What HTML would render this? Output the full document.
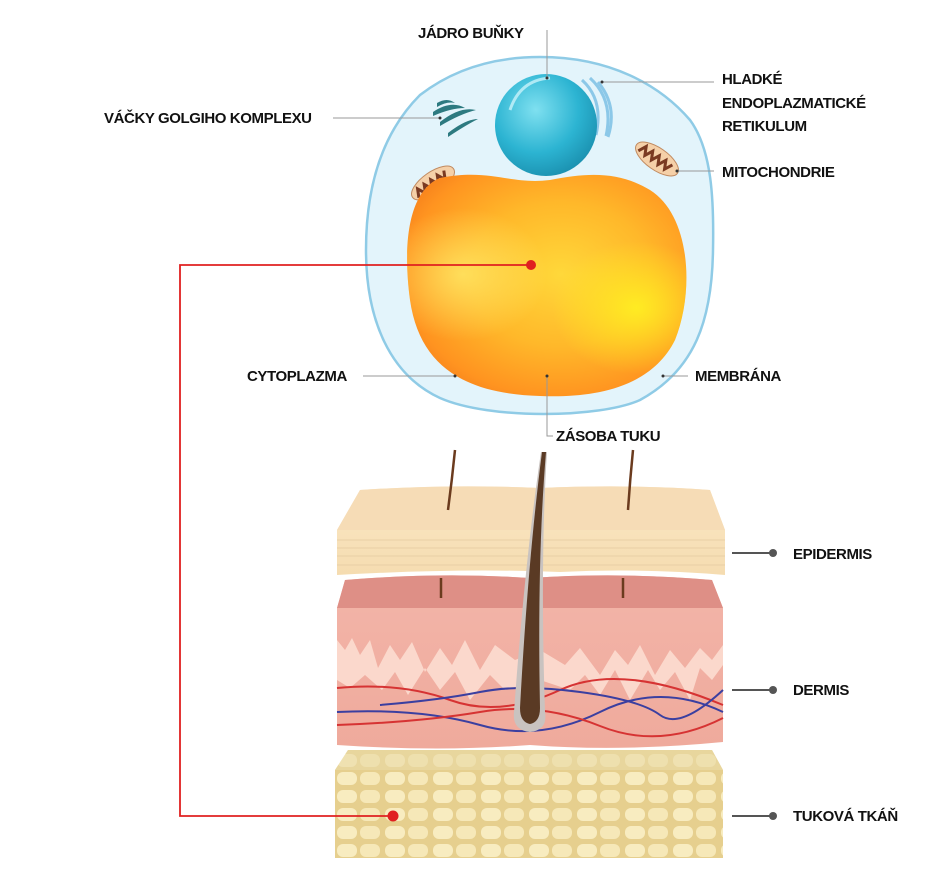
<!DOCTYPE html>
<html><head><meta charset="utf-8"><style>
html,body{margin:0;padding:0;background:#fff;}
svg{display:block}
text{font-family:"Liberation Sans",sans-serif;font-weight:bold;font-size:15px;fill:#111;letter-spacing:-0.4px}
</style></head><body>
<svg width="938" height="869" viewBox="0 0 938 869" xmlns="http://www.w3.org/2000/svg">
<defs>
<radialGradient id="fat" cx="0.55" cy="0.45" r="0.65">
<stop offset="0" stop-color="#ffd83a"/><stop offset="0.5" stop-color="#ffb82a"/><stop offset="0.85" stop-color="#ff9420"/><stop offset="1" stop-color="#f57f1c"/>
</radialGradient>
<radialGradient id="fat2" cx="0.82" cy="0.6" r="0.3">
<stop offset="0" stop-color="#ffee22" stop-opacity="0.95"/><stop offset="1" stop-color="#ffee22" stop-opacity="0"/>
</radialGradient>
<radialGradient id="fat3" cx="0.2" cy="0.45" r="0.3">
<stop offset="0" stop-color="#fff070" stop-opacity="0.7"/><stop offset="1" stop-color="#fff070" stop-opacity="0"/>
</radialGradient>
<radialGradient id="nuc" cx="0.4" cy="0.35" r="0.7">
<stop offset="0" stop-color="#7fe0f0"/><stop offset="0.6" stop-color="#2cb4d2"/><stop offset="1" stop-color="#1a8fae"/>
</radialGradient>
<linearGradient id="epi" x1="0" y1="0" x2="0" y2="1"><stop offset="0" stop-color="#fbe8c6"/><stop offset="1" stop-color="#f5dcb0"/></linearGradient>
<linearGradient id="derm" x1="0" y1="0" x2="0" y2="1"><stop offset="0" stop-color="#f3b5a9"/><stop offset="1" stop-color="#efaa9c"/></linearGradient>
<pattern id="cells" x="335" y="770" width="48" height="18" patternUnits="userSpaceOnUse">
<rect width="48" height="18" fill="#e6cf8e"/>
<rect x="2" y="2" width="20" height="13" rx="6" fill="#f8ecc0"/>
<rect x="25" y="2" width="20" height="13" rx="6" fill="#f6e8b8"/>
</pattern>
</defs>

<!-- cell -->
<path d="M540 57 C610 57 660 85 690 120 C712 150 714 200 713 250 C712 320 695 370 640 400 C600 418 490 420 440 398 C390 375 366 320 366 250 C366 180 385 130 420 95 C455 68 495 57 540 57 Z" fill="#e3f4fb" stroke="#8fcbe6" stroke-width="2.5"/>
<!-- golgi -->
<g fill="#2d7a80">
<path d="M437 103 q10 -6 18 0 q-8 -2 -18 4z"/>
<path d="M433 112 q18 -12 32 -4 q-14 0 -32 8z"/>
<path d="M440 122 q20 -16 36 -12 q-16 4 -36 16z"/>
<path d="M448 133 q18 -14 30 -14 q-12 6 -30 18z"/>
</g>
<!-- ER -->
<g fill="none" stroke="#8cc8e8" stroke-width="3">
<path d="M582 80 q22 20 14 55"/><path d="M590 78 q24 22 16 58"/><path d="M598 82 q20 24 10 55"/>
</g>
<!-- mitochondria -->
<g transform="rotate(-35 433 183)"><ellipse cx="433" cy="183" rx="25" ry="11" fill="#f5d0a8" stroke="#c08a60"/><path d="M413 187 l4 -8 l4 8 l4 -8 l4 8 l4 -8 l4 8 l4 -8 l4 8 l4 -8" fill="none" stroke="#7a3a22" stroke-width="3"/></g>
<g transform="rotate(35 657 159)"><ellipse cx="657" cy="159" rx="25" ry="11" fill="#f5d0a8" stroke="#c08a60"/><path d="M637 163 l4 -8 l4 8 l4 -8 l4 8 l4 -8 l4 8 l4 -8 l4 8 l4 -8" fill="none" stroke="#7a3a22" stroke-width="3"/></g>
<!-- nucleus -->
<circle cx="546" cy="125" r="51" fill="url(#nuc)"/>
<path d="M510 110 q10 -30 40 -32" fill="none" stroke="#c8f2fa" stroke-width="3" opacity="0.8"/>
<!-- fat -->
<path d="M440 178 C490 168 510 185 550 180 C590 172 620 172 650 190 C690 215 695 290 675 340 C650 390 590 398 540 396 C470 394 420 370 410 300 C402 240 410 190 440 178 Z" fill="url(#fat)"/>
<path d="M440 178 C490 168 510 185 550 180 C590 172 620 172 650 190 C690 215 695 290 675 340 C650 390 590 398 540 396 C470 394 420 370 410 300 C402 240 410 190 440 178 Z" fill="url(#fat2)"/>
<path d="M440 178 C490 168 510 185 550 180 C590 172 620 172 650 190 C690 215 695 290 675 340 C650 390 590 398 540 396 C470 394 420 370 410 300 C402 240 410 190 440 178 Z" fill="url(#fat3)"/>

<!-- cell leader lines -->
<g stroke="#999" stroke-width="1" fill="none">
<path d="M547 30 V78"/><path d="M333 118 H440"/><path d="M602 82 H714"/><path d="M677 171 H714"/>
<path d="M363 376 H455"/><path d="M663 376 H688"/><path d="M547 376 V436 H553"/>
</g>
<g fill="#333"><circle cx="547" cy="78" r="1.5"/><circle cx="440" cy="118" r="1.5"/><circle cx="602" cy="82" r="1.5"/><circle cx="677" cy="171" r="1.5"/><circle cx="455" cy="376" r="1.5"/><circle cx="663" cy="376" r="1.5"/><circle cx="547" cy="376" r="1.5"/></g>

<!-- fat layer -->
<path d="M348 750 H712 L723 770 V858 H335 V770 Z" fill="url(#cells)"/>
<path d="M348 750 H712 L723 770 H335 Z" fill="#eadba6" opacity="0.6"/>

<!-- dermis -->
<path d="M345 580 Q440 572 530 578 Q620 572 712 580 L723 608 V742 Q620 752 530 745 Q440 752 337 745 V608 Z" fill="url(#derm)"/>
<path d="M345 580 Q440 572 530 578 Q620 572 712 580 L723 608 H337 Z" fill="#de8f86"/>
<path d="M337 640 L345 650 L352 638 L360 655 L370 640 L378 668 L390 645 L400 660 L412 642 L425 672 L440 648 L452 665 L465 640 L480 670 L495 645 L515 660 L540 650 L565 665 L580 648 L600 675 L615 650 L628 665 L640 645 L655 675 L670 650 L685 668 L700 648 L712 660 L723 645 V665 L712 680 L700 668 L690 700 L675 672 L660 690 L648 670 L630 700 L615 670 L600 695 L585 675 L570 690 L540 680 L505 690 L490 675 L470 700 L455 672 L440 690 L425 668 L408 695 L395 672 L382 690 L365 675 L350 688 L337 680 Z" fill="#fbd8cc"/>
<g fill="none" stroke-width="2">
<path d="M337 688 Q400 682 450 700 T560 690 T723 705" stroke="#d63333"/>
<path d="M380 705 Q440 700 480 692 T580 692 T660 715 T723 690" stroke="#3b3fa0"/>
<path d="M337 712 Q420 708 480 725 T600 712 T723 712" stroke="#3b3fa0"/>
<path d="M337 725 Q420 722 480 712 T600 726 T723 718" stroke="#d63333"/>
</g>
<path d="M441 578 V598 M623 578 V598" stroke="#6b3b1e" stroke-width="2.5"/>

<!-- epidermis -->
<path d="M360 490 Q450 484 540 488 Q630 484 710 490 L725 530 V575 Q640 568 560 572 Q460 568 337 575 V530 Z" fill="url(#epi)"/>
<path d="M360 490 Q450 484 540 488 Q630 484 710 490 L725 530 H337 Z" fill="#f6dcb6"/>
<g stroke="#e8cfa5" stroke-width="1" fill="none"><path d="M337 540 H725"/><path d="M337 548 H725"/><path d="M337 556 H725"/><path d="M337 565 H725"/></g>
<path d="M455 450 Q452 480 448 510 M633 450 Q630 480 628 510" stroke="#6b3b1e" stroke-width="2.5" fill="none"/>
<!-- central hair -->
<path d="M541 452 L547 452 Q540 560 545 712 Q548 730 530 732 Q512 730 514 712 Q525 560 541 452 Z" fill="#c9c3c0"/>
<path d="M542 452 L546 452 Q537 560 540 708 Q540 722 530 724 Q520 722 520 708 Q528 560 542 452 Z" fill="#5a3a24"/>

<!-- red connector -->
<path d="M531 265 H180 V816 H393" fill="none" stroke="#e02020" stroke-width="1.8"/>
<circle cx="531" cy="265" r="5" fill="#e02020"/><circle cx="393" cy="816" r="5.5" fill="#e02020"/>

<!-- skin leaders -->
<g stroke="#555" stroke-width="2"><path d="M732 553 H773"/><path d="M732 690 H773"/><path d="M732 816 H773"/></g>
<g fill="#555"><circle cx="773" cy="553" r="4"/><circle cx="773" cy="690" r="4"/><circle cx="773" cy="816" r="4"/></g>

<!-- labels -->
<text x="418" y="38">JÁDRO BUŇKY</text>
<text x="104" y="123">VÁČKY GOLGIHO KOMPLEXU</text>
<text x="722" y="84">HLADKÉ</text>
<text x="722" y="108">ENDOPLAZMATICKÉ</text>
<text x="722" y="131">RETIKULUM</text>
<text x="722" y="177">MITOCHONDRIE</text>
<text x="247" y="381">CYTOPLAZMA</text>
<text x="695" y="381">MEMBRÁNA</text>
<text x="556" y="441">ZÁSOBA TUKU</text>
<text x="793" y="559">EPIDERMIS</text>
<text x="793" y="695">DERMIS</text>
<text x="793" y="821">TUKOVÁ TKÁŇ</text>
</svg>
</body></html>
